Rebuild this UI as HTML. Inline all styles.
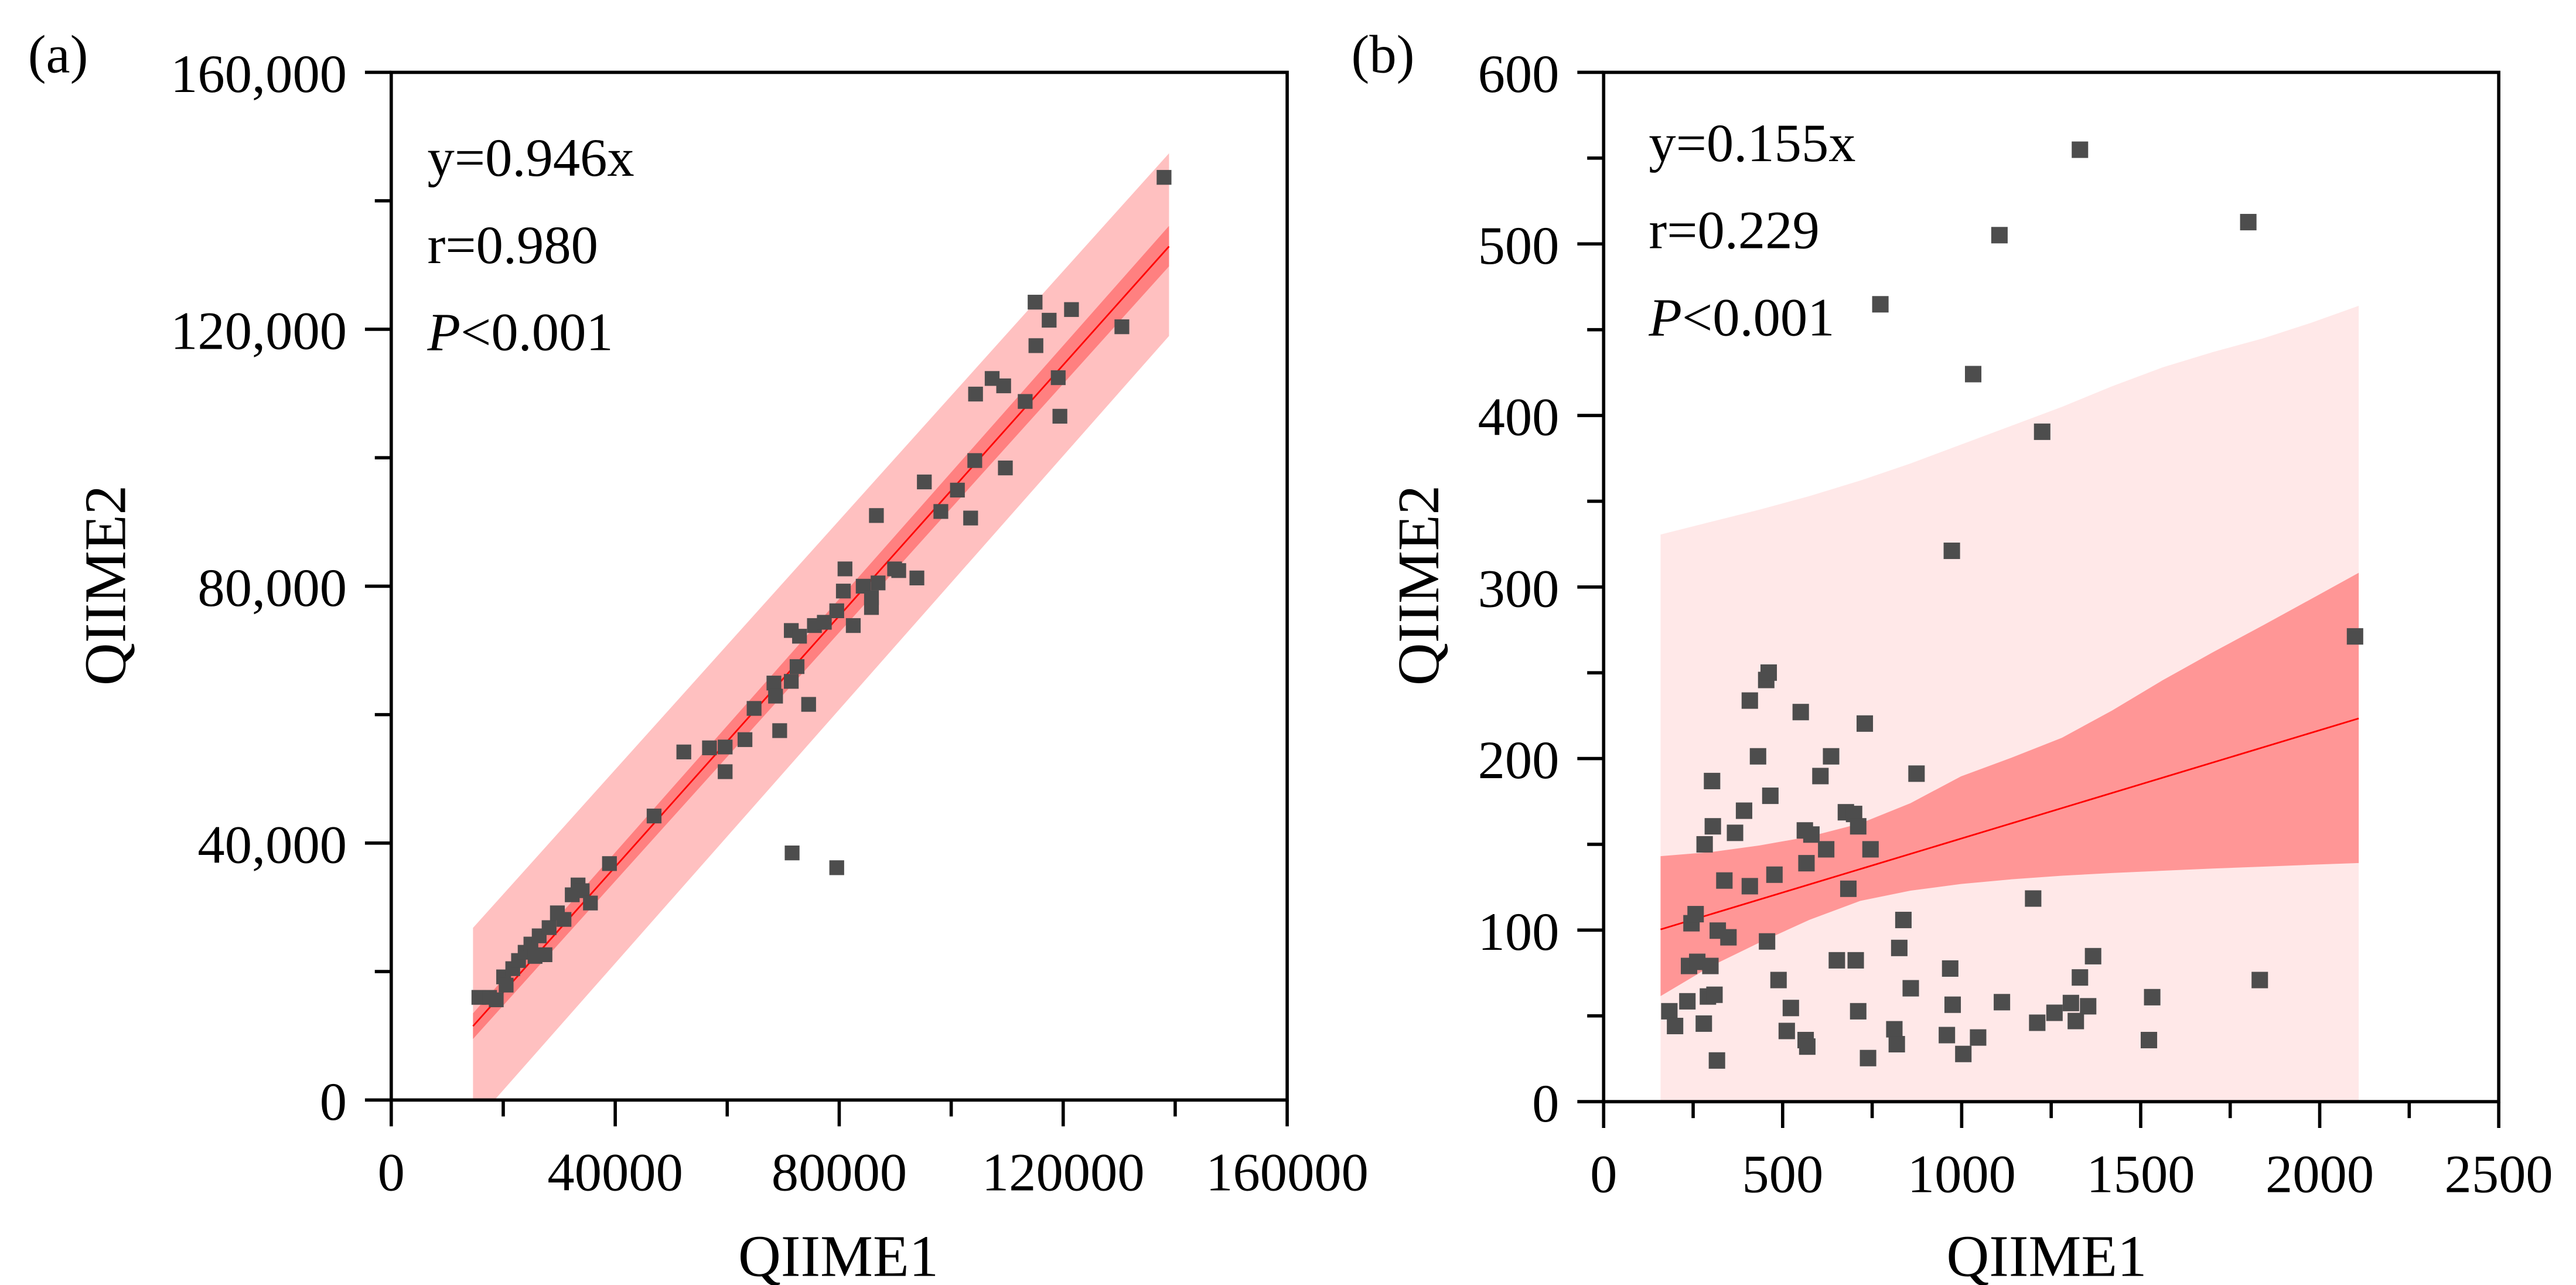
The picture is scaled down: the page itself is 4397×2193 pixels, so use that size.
<!DOCTYPE html>
<html><head><meta charset="utf-8"><style>
html,body{margin:0;padding:0;background:#fff;}
svg{display:block;}
text{font-family:"Liberation Serif",serif;fill:#000;}
</style></head><body>
<svg id="fig" xmlns="http://www.w3.org/2000/svg" width="4397" height="2193" viewBox="0 0 1567 781.5" preserveAspectRatio="none">
<defs>
<clipPath id="clipA"><rect x="238" y="44" width="545" height="625"/></clipPath>
<clipPath id="clipB"><rect x="975.5" y="44" width="544.5" height="626"/></clipPath>
</defs>
<g id="panelA"></g>
<g id="panelB"></g>
</svg>
<script>
// ---------- Panel (a) data ----------
const aX = [15650,17560,18750,20070,20520,21700,22730,23910,24940,25680,26420,27450,28190,29670,30850,32320,33360,34100,35570,38970,46940,52250,56830,59630,59630,63170,64800,68340,69370,68630,71440,72910,71440,72470,74540,75570,77340,79560,81030,80740,82510,84280,85760,85760,86940,86640,89890,90630,93870,95200,98150,101110,103470,104350,104210,107310,109370,109670,113210,114980,115130,117490,119410,119110,121480,130480,138010,71590,79560];
const aY = [15980,15980,15600,19170,17890,20450,21720,23000,24280,22360,25560,22620,26840,29140,28120,31950,33480,32590,30670,36810,44220,54190,54830,54960,51120,56110,60970,64920,57510,62880,73100,72210,65180,67480,61600,73870,74380,76170,82690,79240,73870,80000,76680,78210,80510,91000,82690,82430,81280,96230,91630,94960,90610,109910,99560,112340,111190,98410,108760,124220,117450,121410,106460,112460,123070,120390,143650,38470,36170];
const aBandX = [14600, 138900];
const aLine = [11500, 132900];
const aConfUpper = [13500, 136100];
const aConfLower = [9500, 129800];
const aPredUpper = [26800, 147400];
const aPredLower = [-3800, 118960];
const aXTicks = [0, 40000, 80000, 120000, 160000];
const aXTickLabels = ["0","40000","80000","120000","160000"];
const aYTicks = [0, 40000, 80000, 120000, 160000];
const aYTickLabels = ["0","40,000","80,000","120,000","160,000"];
const aNotes = ["y=0.946x","r=0.980"];

// ---------- Panel (b) data ----------
const bX = [183.5,199.5,233.9,238.5,245.4,256.9,261.5,279.8,282.1,291.3,298.2,302.8,305.0,309.6,316.5,318.8,337.2,348.6,367.0,392.2,408.3,408.3,431.2,456.4,454.1,461.0,465.6,477.1,488.5,511.5,522.9,550.5,562.0,564.2,568.8,566.5,580.3,605.5,621.6,635.3,651.4,676.6,683.5,699.5,704.1,711.0,711.0,729.4,738.5,745.4,772.9,811.9,818.8,825.7,837.2,857.8,873.9,958.7,967.9,972.5,974.8,1004.6,1032.1,1045.9,1105.5,1112.4,1199.6,1211.0,1224.8,1259.2,1305.1,1318.8,1330.3,1330.3,1353.2,1367.0,1523.0,1532.1,1800.5,1832.6,2098.6];
const bY = [52.7,44.1,58.5,79.1,104.0,109.3,81.5,45.5,150.0,61.3,79.1,186.9,160.5,62.3,24.0,99.7,128.9,95.8,156.7,169.6,233.8,125.6,201.3,93.4,245.8,250.1,178.3,132.3,70.9,41.2,54.6,227.1,158.1,35.9,32.1,139.0,155.7,189.8,147.1,201.3,82.4,168.7,124.1,167.7,82.4,160.5,52.7,220.4,25.4,147.1,464.8,42.2,33.5,89.6,105.9,66.1,191.2,38.8,77.6,321.1,56.5,27.8,424.1,37.4,505.1,58.0,118.4,46.0,390.5,51.8,57.5,47.0,554.9,72.4,55.6,84.8,35.9,60.9,512.7,70.9,271.2];
const bBandX = [159, 300, 434, 575, 716, 857, 998, 1139, 1280, 1420, 1561, 1702, 1843, 1976, 2109];
const bConfUpper = [143.1, 145.5, 149.3, 154.5, 162.1, 174, 189.6, 200.5, 212.1, 228, 245.6, 262, 277.8, 293, 308.3];
const bConfLower = [61.5, 79, 92.6, 106, 117.0, 123, 126.9, 129.6, 131.7, 133.3, 134.6, 135.9, 137.0, 138.1, 139.1];
const bPredUpper = [330.6, 338, 345, 353, 362, 372, 383, 394, 405, 417, 428, 437, 445, 454, 463.9];
const bPredLower = [-10, -10, -10, -10, -10, -10, -10, -10, -10, -10, -10, -10, -10, -10, -10];
const bLine = [100.4, 223.4];
const bXTicks = [0, 500, 1000, 1500, 2000, 2500];
const bXTickLabels = ["0","500","1000","1500","2000","2500"];
const bYTicks = [0, 100, 200, 300, 400, 500, 600];
const bYTickLabels = ["0","100","200","300","400","500","600"];
const bNotes = ["y=0.155x","r=0.229"];

const NS = "http://www.w3.org/2000/svg";
function mk(tag, attrs, parent){
  const e = document.createElementNS(NS, tag);
  for (const k in attrs) e.setAttribute(k, attrs[k]);
  parent.appendChild(e);
  return e;
}
function lin(d0,d1,r0,r1){ return v => r0 + (v-d0)/(d1-d0)*(r1-r0); }

function drawPanel(g, cfg){
  const sx = lin(cfg.xmin, cfg.xmax, cfg.L, cfg.R);
  const sy = lin(cfg.ymin, cfg.ymax, cfg.B, cfg.T);
  const bands = mk('g', {'clip-path': 'url(#'+cfg.clip+')'}, g);
  let d = '';
  cfg.bandX.forEach((x,i)=>{ d += (i?'L':'M') + sx(x) + ' ' + sy(cfg.predUpper[i]); });
  for (let i=cfg.bandX.length-1;i>=0;i--) d += 'L' + sx(cfg.bandX[i]) + ' ' + sy(cfg.predLower[i]);
  const pb = mk('path', {d: d+'Z', fill: cfg.predColor}, bands);
  
  
  d = '';
  cfg.bandX.forEach((x,i)=>{ d += (i?'L':'M') + sx(x) + ' ' + sy(cfg.confUpper[i]); });
  for (let i=cfg.bandX.length-1;i>=0;i--) d += 'L' + sx(cfg.bandX[i]) + ' ' + sy(cfg.confLower[i]);
  const cb = mk('path', {d: d+'Z', fill: cfg.confColor}, bands);
  
  
  const n = cfg.bandX.length-1;
  const ln = mk('line', {x1: sx(cfg.bandX[0]), y1: sy(cfg.line[0]), x2: sx(cfg.bandX[n]), y2: sy(cfg.line[1]), stroke: '#ff0000', 'stroke-width': 1}, bands);
  
  
  const pts = mk('g', {}, g);
  
  
  const s = cfg.sq;
  cfg.xs.forEach((x,i)=>{
    const r = mk('rect', {x: sx(x)-s/2, y: sy(cfg.ys[i])-s/2, width: s, height: s, fill: '#4d4d4d'}, pts);
    
    
  });
  const fr = mk('rect', {x: cfg.L, y: cfg.T, width: cfg.R-cfg.L, height: cfg.B-cfg.T, fill: 'none', stroke: '#000', 'stroke-width': 2}, g);
  
  
  const xa = mk('g', {}, g);
  
  
  cfg.xTicks.forEach((t,i)=>{
    mk('line', {x1: sx(t), x2: sx(t), y1: cfg.B, y2: cfg.B+16, stroke: '#000', 'stroke-width': 2}, xa);
    if (i < cfg.xTicks.length-1) {
      const m = (t + cfg.xTicks[i+1])/2;
      mk('line', {x1: sx(m), x2: sx(m), y1: cfg.B, y2: cfg.B+10, stroke: '#000', 'stroke-width': 2}, xa);
    }
    const tx = mk('text', {x: sx(t), y: cfg.B+55, 'text-anchor': 'middle', 'font-size': 33}, xa);
    tx.textContent = cfg.xTickLabels[i];
    
    
  });
  const ya = mk('g', {}, g);
  
  
  cfg.yTicks.forEach((t,i)=>{
    mk('line', {x1: cfg.L-16, x2: cfg.L, y1: sy(t), y2: sy(t), stroke: '#000', 'stroke-width': 2}, ya);
    if (i < cfg.yTicks.length-1) {
      const m = (t + cfg.yTicks[i+1])/2;
      mk('line', {x1: cfg.L-10, x2: cfg.L, y1: sy(m), y2: sy(m), stroke: '#000', 'stroke-width': 2}, ya);
    }
    const tx = mk('text', {x: cfg.L-27, y: sy(t)+12, 'text-anchor': 'end', 'font-size': 33}, ya);
    tx.textContent = cfg.yTickLabels[i];
    
    
  });
  const xt = mk('text', {x: cfg.xTitleX, y: 776, 'text-anchor': 'middle', 'font-size': 36}, g);
  xt.textContent = 'QIIME1';
  
  
  const yt = mk('text', {x: 0, y: 0, 'text-anchor': 'middle', 'font-size': 36, transform: 'translate('+cfg.yTitleX+',356) rotate(-90)'}, g);
  yt.textContent = 'QIIME2';
  
  
  const pl = mk('text', {x: cfg.labelX, y: 44, 'font-size': 33}, g);
  pl.textContent = cfg.label;
  
  
  const an = mk('g', {'font-size': 33}, g);
  
  
  cfg.notes.forEach((s,i)=>{
    const t = mk('text', {x: cfg.noteX, y: cfg.noteY + i*53}, an);
    t.textContent = s;
  });
  const p = mk('text', {x: cfg.noteX, y: cfg.noteY + 2*53}, an);
  const pi = mk('tspan', {'font-style': 'italic'}, p);
  pi.textContent = 'P';
  const pr = mk('tspan', {}, p);
  pr.textContent = '<0.001';
}

drawPanel(document.getElementById('panelA'), {
  xmin:0, xmax:160000, ymin:0, ymax:160000, L:238, R:783, T:44, B:669, clip:'clipA',
  bandX:aBandX, predUpper:aPredUpper, predLower:aPredLower, confUpper:aConfUpper, confLower:aConfLower, line:aLine,
  predColor:'#ffc0c0', confColor:'#ff8080', xs:aX, ys:aY, sq:9,
  xTicks:aXTicks, xTickLabels:aXTickLabels, yTicks:aYTicks, yTickLabels:aYTickLabels,
  xTitleX:510, yTitleX:76, label:'(a)', labelX:17, notes:aNotes, noteX:260, noteY:107
});
drawPanel(document.getElementById('panelB'), {
  xmin:0, xmax:2500, ymin:0, ymax:600, L:975.5, R:1520, T:44, B:670, clip:'clipB',
  bandX:bBandX, predUpper:bPredUpper, predLower:bPredLower, confUpper:bConfUpper, confLower:bConfLower, line:bLine,
  predColor:'#ffe8e8', confColor:'#ff9696', xs:bX, ys:bY, sq:10,
  xTicks:bXTicks, xTickLabels:bXTickLabels, yTicks:bYTicks, yTickLabels:bYTickLabels,
  xTitleX:1245, yTitleX:875, label:'(b)', labelX:822, notes:bNotes, noteX:1003, noteY:98
});
</script>
</body></html>
